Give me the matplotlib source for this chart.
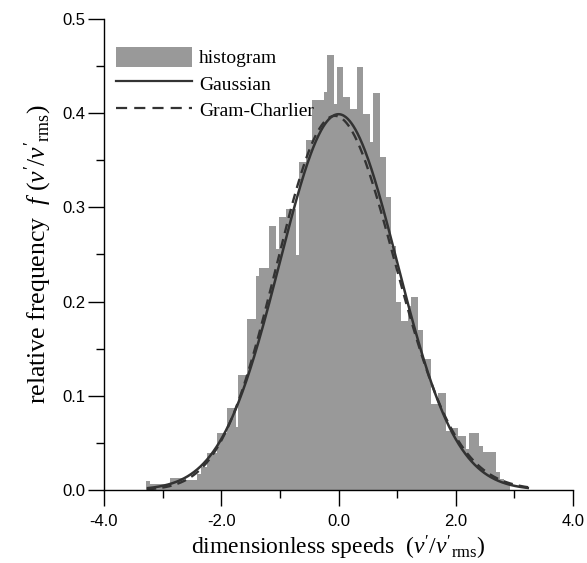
import numpy as np
import matplotlib
matplotlib.use("Agg")
import matplotlib.pyplot as plt
from matplotlib.patches import Patch
from matplotlib.lines import Line2D
from matplotlib.ticker import MultipleLocator, FormatStrFormatter

# ---- data ----
bin_edges = [-3.28, -3.22, -2.88, -2.66, -2.41, -2.34, -2.24, -2.07, -1.90, -1.75,
             -1.71, -1.56, -1.41, -1.36, -1.19, -1.07, -1.02, -0.90, -0.73, -0.68,
             -0.56, -0.46, -0.25, -0.20, -0.08, -0.03, 0.08, 0.20, 0.31, 0.42,
             0.54, 0.59, 0.71, 0.81, 0.90, 0.98, 1.07, 1.19, 1.24, 1.36,
             1.44, 1.58, 1.69, 1.83, 1.90, 2.03, 2.17, 2.22, 2.39, 2.47,
             2.68, 2.75, 2.83, 2.92]
bin_heights = [0.010, 0.006, 0.013, 0.011, 0.017, 0.024, 0.039, 0.061, 0.087,
               0.067, 0.122, 0.181, 0.227, 0.236, 0.280, 0.256, 0.290, 0.298, 0.249,
               0.348, 0.372, 0.414, 0.423, 0.462, 0.410, 0.449, 0.417, 0.404, 0.449,
               0.399, 0.369, 0.421, 0.353, 0.311, 0.259, 0.200, 0.179, 0.195, 0.205,
               0.170, 0.139, 0.091, 0.103, 0.063, 0.066, 0.057, 0.043, 0.061, 0.047,
               0.040, 0.019, 0.012, 0.007]

curve_range = [-3.27, 3.25]
gauss_mean, gauss_std = 0.0, 1.0
gc_skew, gc_exkurt = 0.12, -0.05

labels = ["histogram", "Gaussian", "Gram-Charlier"]
xticks = [-4.0, -2.0, 0.0, 2.0, 4.0]
yticks = [0.0, 0.1, 0.2, 0.3, 0.4, 0.5]

# ---- curves ----
x = np.linspace(curve_range[0], curve_range[1], 600)
z = (x - gauss_mean) / gauss_std
phi = np.exp(-0.5 * z**2) / np.sqrt(2 * np.pi) / gauss_std
he3 = z**3 - 3 * z
he4 = z**4 - 6 * z**2 + 3
gc = phi * (1 + gc_skew / 6 * he3 + gc_exkurt / 24 * he4)

# ---- figure ----
plt.rcParams['mathtext.fontset'] = 'custom'
plt.rcParams['mathtext.rm'] = 'Liberation Serif'
plt.rcParams['mathtext.it'] = 'Liberation Serif:italic'

fig = plt.figure(figsize=(5.87, 5.63), dpi=100)
ax = fig.add_axes([104 / 587, 1 - 490 / 563, 469 / 587, 471 / 563])

hist_color = '#999999'
line_color = '#333333'
ax.stairs(bin_heights, bin_edges, fill=True, color=hist_color, linewidth=0)
ax.plot(x, phi, color=line_color, lw=1.8, solid_capstyle='butt')
ax.plot(x, gc, color=line_color, lw=1.7, dashes=(4.0, 2.6))

ax.set_xlim(-4, 4)
ax.set_ylim(0, 0.5)
for s in ['top', 'right']:
    ax.spines[s].set_visible(False)
for s in ['left', 'bottom']:
    ax.spines[s].set_linewidth(1.0)

ax.set_xticks(xticks)
ax.set_yticks(yticks)
ax.xaxis.set_minor_locator(MultipleLocator(1.0))
ax.yaxis.set_minor_locator(MultipleLocator(0.05))
ax.xaxis.set_major_formatter(FormatStrFormatter('%.1f'))
ax.yaxis.set_major_formatter(FormatStrFormatter('%.1f'))
ax.tick_params(which='major', direction='out', length=11.5, width=1.0)
ax.tick_params(which='minor', direction='out', length=6, width=1.0)
ax.tick_params(axis='x', which='major', pad=6)
ax.tick_params(axis='y', which='major', pad=2)
for lab in ax.get_xticklabels() + ax.get_yticklabels():
    lab.set_fontfamily('Liberation Sans')
    lab.set_fontsize(12)

ax.set_xlabel("dimensionless speeds  $(v'/v'_{\\rm rms})$",
              fontfamily='Liberation Serif', fontsize=17, labelpad=3)
ax.set_ylabel("relative frequency  $f$ $(v'/v'_{\\rm rms})$",
              fontfamily='Liberation Serif', fontsize=18.5, labelpad=6)

handles = [Patch(facecolor=hist_color, edgecolor='none'),
           Line2D([], [], color=line_color, lw=1.6),
           Line2D([], [], color=line_color, lw=1.6, dashes=(5, 3.2))]
ax.legend(handles, labels, loc='upper left', bbox_to_anchor=(0.026, 0.94),
          frameon=False, borderpad=0, borderaxespad=0,
          prop={'family': 'Liberation Serif', 'size': 14},
          handlelength=3.9, handleheight=1.15, handletextpad=0.35, labelspacing=0.3)

fig.savefig('out.png', dpi=100)
